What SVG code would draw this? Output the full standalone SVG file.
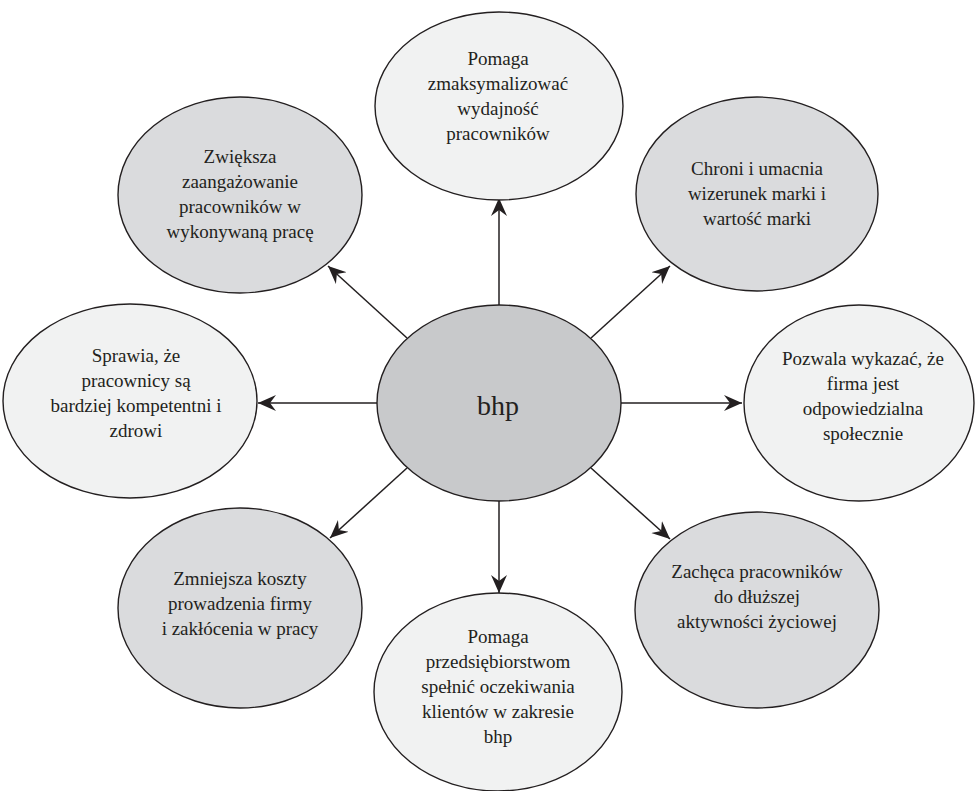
<svg xmlns="http://www.w3.org/2000/svg" width="975" height="791" viewBox="0 0 975 791">
<style>
.n{stroke:#231f20;stroke-width:1.4}
.d{fill:#dadbdd}
.l{fill:#f1f2f2}
.c{fill:#c8c9cb}
text{font-family:'Liberation Serif','DejaVu Serif',serif;font-size:19px;fill:#231f20;text-anchor:middle}
.e{stroke:#231f20;stroke-width:1.5;fill:none;marker-end:url(#ah)}
</style>
<defs>
<marker id="ah" markerUnits="userSpaceOnUse" viewBox="-18 -9 19 18" refX="0" refY="0" markerWidth="19" markerHeight="18" orient="auto">
<path d="M0,0 L-18,-8 L-12,0 L-18,8 Z" fill="#231f20"/>
</marker>
</defs>
<rect width="975" height="791" fill="#ffffff"/>
<g id="edges">
<line class="e" x1="499" y1="305" x2="499" y2="198"/>
<line class="e" x1="407" y1="338" x2="328" y2="266"/>
<line class="e" x1="591" y1="338" x2="670" y2="266"/>
<line class="e" x1="377" y1="403" x2="258" y2="403"/>
<line class="e" x1="621" y1="403" x2="742" y2="403"/>
<line class="e" x1="407" y1="468" x2="330" y2="538"/>
<line class="e" x1="499" y1="501" x2="499" y2="593"/>
<line class="e" x1="591" y1="468" x2="670" y2="539"/>
</g>
<g id="top">
<ellipse class="n l" cx="499" cy="106" rx="124" ry="94"/>
<text x="498" y="65" font-family="Liberation Serif, serif">Pomaga</text>
<text x="498" y="90" font-family="Liberation Serif, serif">zmaksymalizować</text>
<text x="498" y="115" font-family="Liberation Serif, serif">wydajność</text>
<text x="498" y="140" font-family="Liberation Serif, serif">pracowników</text>
</g>
<g id="topleft">
<ellipse class="n d" cx="240" cy="195" rx="122" ry="98"/>
<text x="240" y="163">Zwiększa</text>
<text x="240" y="188">zaangażowanie</text>
<text x="240" y="213">pracowników w</text>
<text x="240" y="238">wykonywaną pracę</text>
</g>
<g id="topright">
<ellipse class="n d" cx="757" cy="194" rx="121" ry="97"/>
<text x="757" y="175">Chroni i umacnia</text>
<text x="757" y="200">wizerunek marki i</text>
<text x="757" y="225">wartość marki</text>
</g>
<g id="left">
<ellipse class="n l" cx="130" cy="401" rx="127" ry="97"/>
<text x="136" y="362">Sprawia, że</text>
<text x="136" y="387">pracownicy są</text>
<text x="136" y="412">bardziej kompetentni i</text>
<text x="136" y="437">zdrowi</text>
</g>
<g id="center">
<ellipse class="n c" cx="499" cy="403" rx="122" ry="98"/>
<text x="498" y="415" style="font-size:28px">bhp</text>
</g>
<g id="right">
<ellipse class="n l" cx="859" cy="403" rx="115" ry="98"/>
<text x="863" y="365">Pozwala wykazać, że</text>
<text x="863" y="390">firma jest</text>
<text x="863" y="415">odpowiedzialna</text>
<text x="863" y="440">społecznie</text>
</g>
<g id="bottomleft">
<ellipse class="n d" cx="240" cy="608" rx="122" ry="100"/>
<text x="240" y="585">Zmniejsza koszty</text>
<text x="240" y="610">prowadzenia firmy</text>
<text x="240" y="635">i zakłócenia w pracy</text>
</g>
<g id="bottom">
<ellipse class="n l" cx="498" cy="692" rx="124" ry="99"/>
<text x="498" y="643">Pomaga</text>
<text x="498" y="668">przedsiębiorstwom</text>
<text x="498" y="693">spełnić oczekiwania</text>
<text x="498" y="718">klientów w zakresie</text>
<text x="498" y="743">bhp</text>
</g>
<g id="bottomright">
<ellipse class="n d" cx="757" cy="610" rx="122" ry="98"/>
<text x="757" y="578">Zachęca pracowników</text>
<text x="757" y="603">do dłuższej</text>
<text x="757" y="628">aktywności życiowej</text>
</g>
</svg>
